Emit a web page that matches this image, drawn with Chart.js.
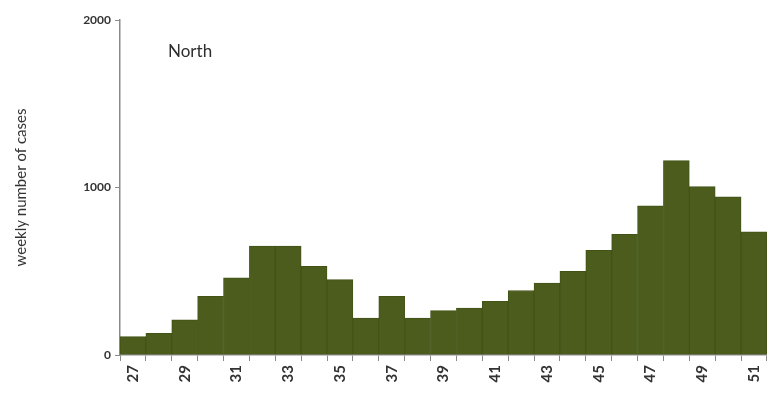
<!DOCTYPE html>
<html>
<head>
<meta charset="utf-8">
<script src="https://cdn.jsdelivr.net/npm/chart.js@4/dist/chart.umd.min.js"></script>
<style>
  html, body { margin: 0; padding: 0; background: #fff; overflow: hidden; }
  #wrap { width: 776px; height: 414px; }
</style>
</head>
<body>
<div id="wrap"><canvas id="northChart"></canvas></div>
<script>
const weeks = ['27','28','29','30','31','32','33','34','35','36','37','38','39','40','41','42','43','44','45','46','47','48','49','50','51']
const weeklyCases = [110, 130, 210, 350, 460, 650, 650, 530, 450, 220, 350, 220, 265, 280, 320, 385, 430, 500, 625, 720, 890, 1160, 1005, 945, 735]
const yTicks = [0, 1000, 2000]
const panelLabel = 'North'

const barColor = '#4b5c1d'
const axisColor = '#8a8a8a'
const textColor = '#333333'

// panel name drawn inside the plot, top left
const panelText = {
  id: 'panelText',
  afterDraw(chart) {
    const ctx = chart.ctx
    const area = chart.chartArea
    ctx.save()
    ctx.font = '17px Lato, "Liberation Sans", sans-serif'
    ctx.fillStyle = '#2e2e2e'
    ctx.textBaseline = 'middle'
    ctx.fillText(panelLabel, area.left + 48, 52)
    ctx.restore()
  }
}

const ctx = document.getElementById('northChart').getContext('2d')
new Chart(ctx, {
  type: 'bar',
  data: {
    labels: weeks,
    datasets: [{
      data: weeklyCases,
      backgroundColor: barColor,
      borderColor: '#435318',
      borderWidth: 1,
      categoryPercentage: 1.0,
      barPercentage: 1.0
    }]
  },
  options: {
    responsive: true,
    maintainAspectRatio: false,
    animation: false,
    layout: { padding: { top: 20, right: 0, left: 0, bottom: 0 } },
    plugins: {
      legend: { display: false },
      tooltip: { enabled: false }
    },
    scales: {
      x: {
        offset: true,
        grid: {
          offset: true,
          drawOnChartArea: false,
          drawTicks: true,
          tickLength: 6,
          color: axisColor
        },
        border: { color: axisColor, width: 1.5 },
        ticks: {
          autoSkip: false,
          minRotation: 90,
          maxRotation: 90,
          padding: 4,
          color: textColor,
          font: { family: 'Lato, "Liberation Sans", sans-serif', size: 15, weight: 'bold' },
          callback: function (value, index) {
            return index % 2 === 0 ? weeks[index] : ''
          }
        },
        afterFit(scale) { scale.height = 59 }
      },
      y: {
        min: 0,
        max: 2000,
        afterBuildTicks(scale) { scale.ticks = yTicks.map(v => ({ value: v })) },
        grid: {
          drawOnChartArea: false,
          drawTicks: true,
          tickLength: 5,
          color: axisColor
        },
        border: { color: axisColor, width: 1.5 },
        ticks: {
          padding: 4,
          color: textColor,
          font: { family: 'Lato, "Liberation Sans", sans-serif', size: 12, weight: 'bold' },
          callback: function (value) { return String(value) }
        },
        title: {
          display: true,
          text: 'weekly number of cases',
          color: textColor,
          font: { family: 'Lato, "Liberation Sans", sans-serif', size: 15 },
          padding: { top: 12, bottom: 20 }
        },
        afterFit(scale) { scale.width = 120 }
      }
    }
  },
  plugins: [panelText]
})
</script>
</body>
</html>
